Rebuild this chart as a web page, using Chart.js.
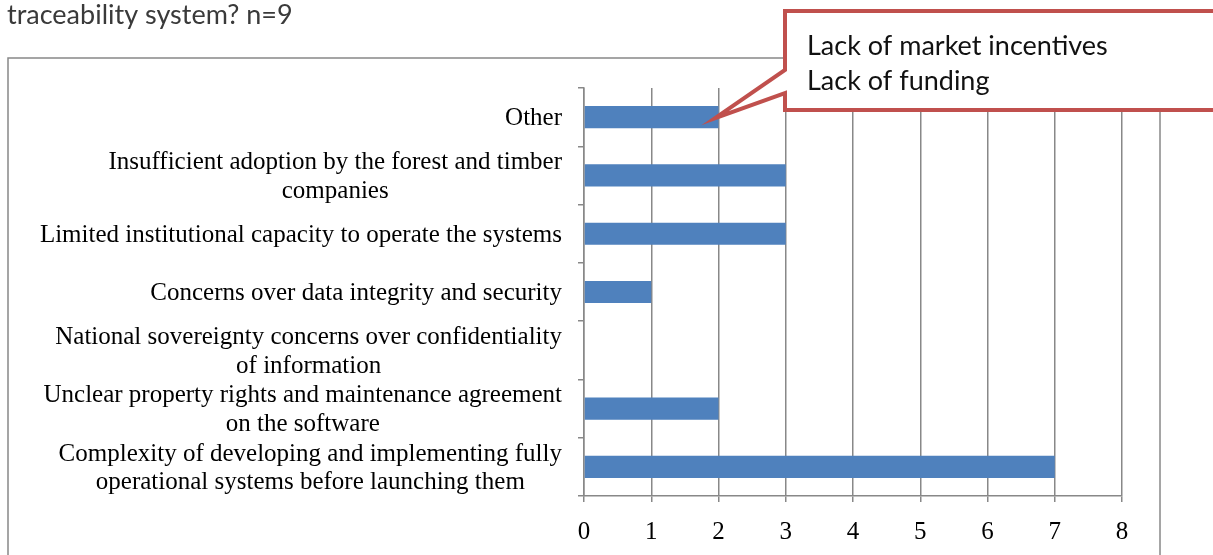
<!DOCTYPE html>
<html>
<head>
<meta charset="utf-8">
<script src="https://cdn.jsdelivr.net/npm/chart.js@4.4.0/dist/chart.umd.min.js"></script>
<style>
  body { margin: 0; background: #fff; }
  #wrap { position: relative; width: 1213px; height: 555px; overflow: hidden; }
</style>
</head>
<body>
<div id="wrap"><canvas id="chart" width="1213" height="555"></canvas></div>
<script>
const categories = [
    ['Other'],
    ['Insufficient adoption by the forest and timber', 'companies'],
    ['Limited institutional capacity to operate the systems'],
    ['Concerns over data integrity and security'],
    ['National sovereignty concerns over confidentiality', 'of information'],
    ['Unclear property rights and maintenance agreement', 'on the software'],
    ['Complexity of developing and implementing fully', 'operational systems before launching them']
];
const counts = [2, 3, 3, 1, 0, 2, 7];
const titleText = 'traceability system? n=9';
const calloutLines = ['Lack of market incentives', 'Lack of funding'];

const gridGray = '#888888';
const serif = "'Liberation Serif', 'DejaVu Serif', serif";
const sans = "Lato, 'Open Sans', sans-serif";

// frame, title, callout and the centred category labels
const extras = {
    id: 'extras',
    beforeDraw(chart) {
        const ctx = chart.ctx;
        ctx.save();
        ctx.fillStyle = '#fff';
        ctx.fillRect(0, 0, chart.width, chart.height);
        ctx.strokeStyle = gridGray;
        ctx.lineWidth = 1.5;
        ctx.strokeRect(8, 58, 1152, 520);
        ctx.fillStyle = '#3a3a3a';
        ctx.font = '27px ' + sans;
        ctx.textBaseline = 'middle';
        ctx.fillText(titleText, 7, 15);
        ctx.restore();
    },
    afterDraw(chart) {
        const ctx = chart.ctx;
        const y = chart.scales.y;
        const x = chart.scales.x;
        ctx.save();
        ctx.font = '25px ' + serif;
        ctx.fillStyle = '#000';
        ctx.textAlign = 'center';
        ctx.textBaseline = 'middle';
        categories.forEach((lines, i) => {
            const cy = y.getPixelForValue(i) + 1.5;
            const w = Math.max(...lines.map(l => ctx.measureText(l).width));
            const cx = 562 - w / 2;
            const lh = 28.5;
            lines.forEach((l, j) => {
                ctx.fillText(l, cx, cy + (j - (lines.length - 1) / 2) * lh);
            });
        });

        // callout pointing at the "Other" bar
        const tipX = x.getPixelForValue(1.95);
        const tipY = y.getPixelForValue(0) + 1;
        const L = 785, T = 11, R = 1240, B = 110;
        ctx.beginPath();
        ctx.moveTo(L, T);
        ctx.lineTo(R, T);
        ctx.lineTo(R, B);
        ctx.lineTo(L, B);
        ctx.lineTo(L, 93);
        ctx.lineTo(tipX, tipY);
        ctx.lineTo(L, 70);
        ctx.closePath();
        ctx.fillStyle = '#fff';
        ctx.fill();
        ctx.strokeStyle = '#C0504D';
        ctx.lineWidth = 4;
        ctx.lineJoin = 'miter';
        ctx.stroke();
        ctx.fillStyle = '#111';
        ctx.textAlign = 'left';
        ctx.font = '27px ' + sans;
        calloutLines.forEach((l, j) => ctx.fillText(l, 807, 46 + j * 35));
        ctx.restore();
    }
};

new Chart(document.getElementById('chart'), {
    type: 'bar',
    data: {
        labels: categories,
        datasets: [{
            data: counts,
            backgroundColor: '#4F81BD',
            borderWidth: 0,
            categoryPercentage: 1,
            barPercentage: 0.38
        }]
    },
    options: {
        indexAxis: 'y',
        responsive: false,
        animation: false,
        devicePixelRatio: 1,
        events: [],
        layout: { padding: { top: 88, right: 91, left: 0, bottom: 0 } },
        plugins: { legend: { display: false }, tooltip: { enabled: false } },
        scales: {
            x: {
                min: 0,
                max: 8,
                afterFit: s => { s.height = 59; },
                ticks: { stepSize: 1, color: '#000', font: { family: serif, size: 25 }, padding: 15 },
                grid: { color: gridGray, lineWidth: 1.5, tickLength: 6 },
                border: { color: gridGray, width: 1.5 }
            },
            y: {
                afterFit: s => { s.width = 584; },
                ticks: { display: false },
                grid: { drawOnChartArea: false, color: gridGray, lineWidth: 1.5, tickLength: 6, offset: true },
                border: { color: gridGray, width: 1.5 }
            }
        }
    },
    plugins: [extras]
});
</script>
</body>
</html>
